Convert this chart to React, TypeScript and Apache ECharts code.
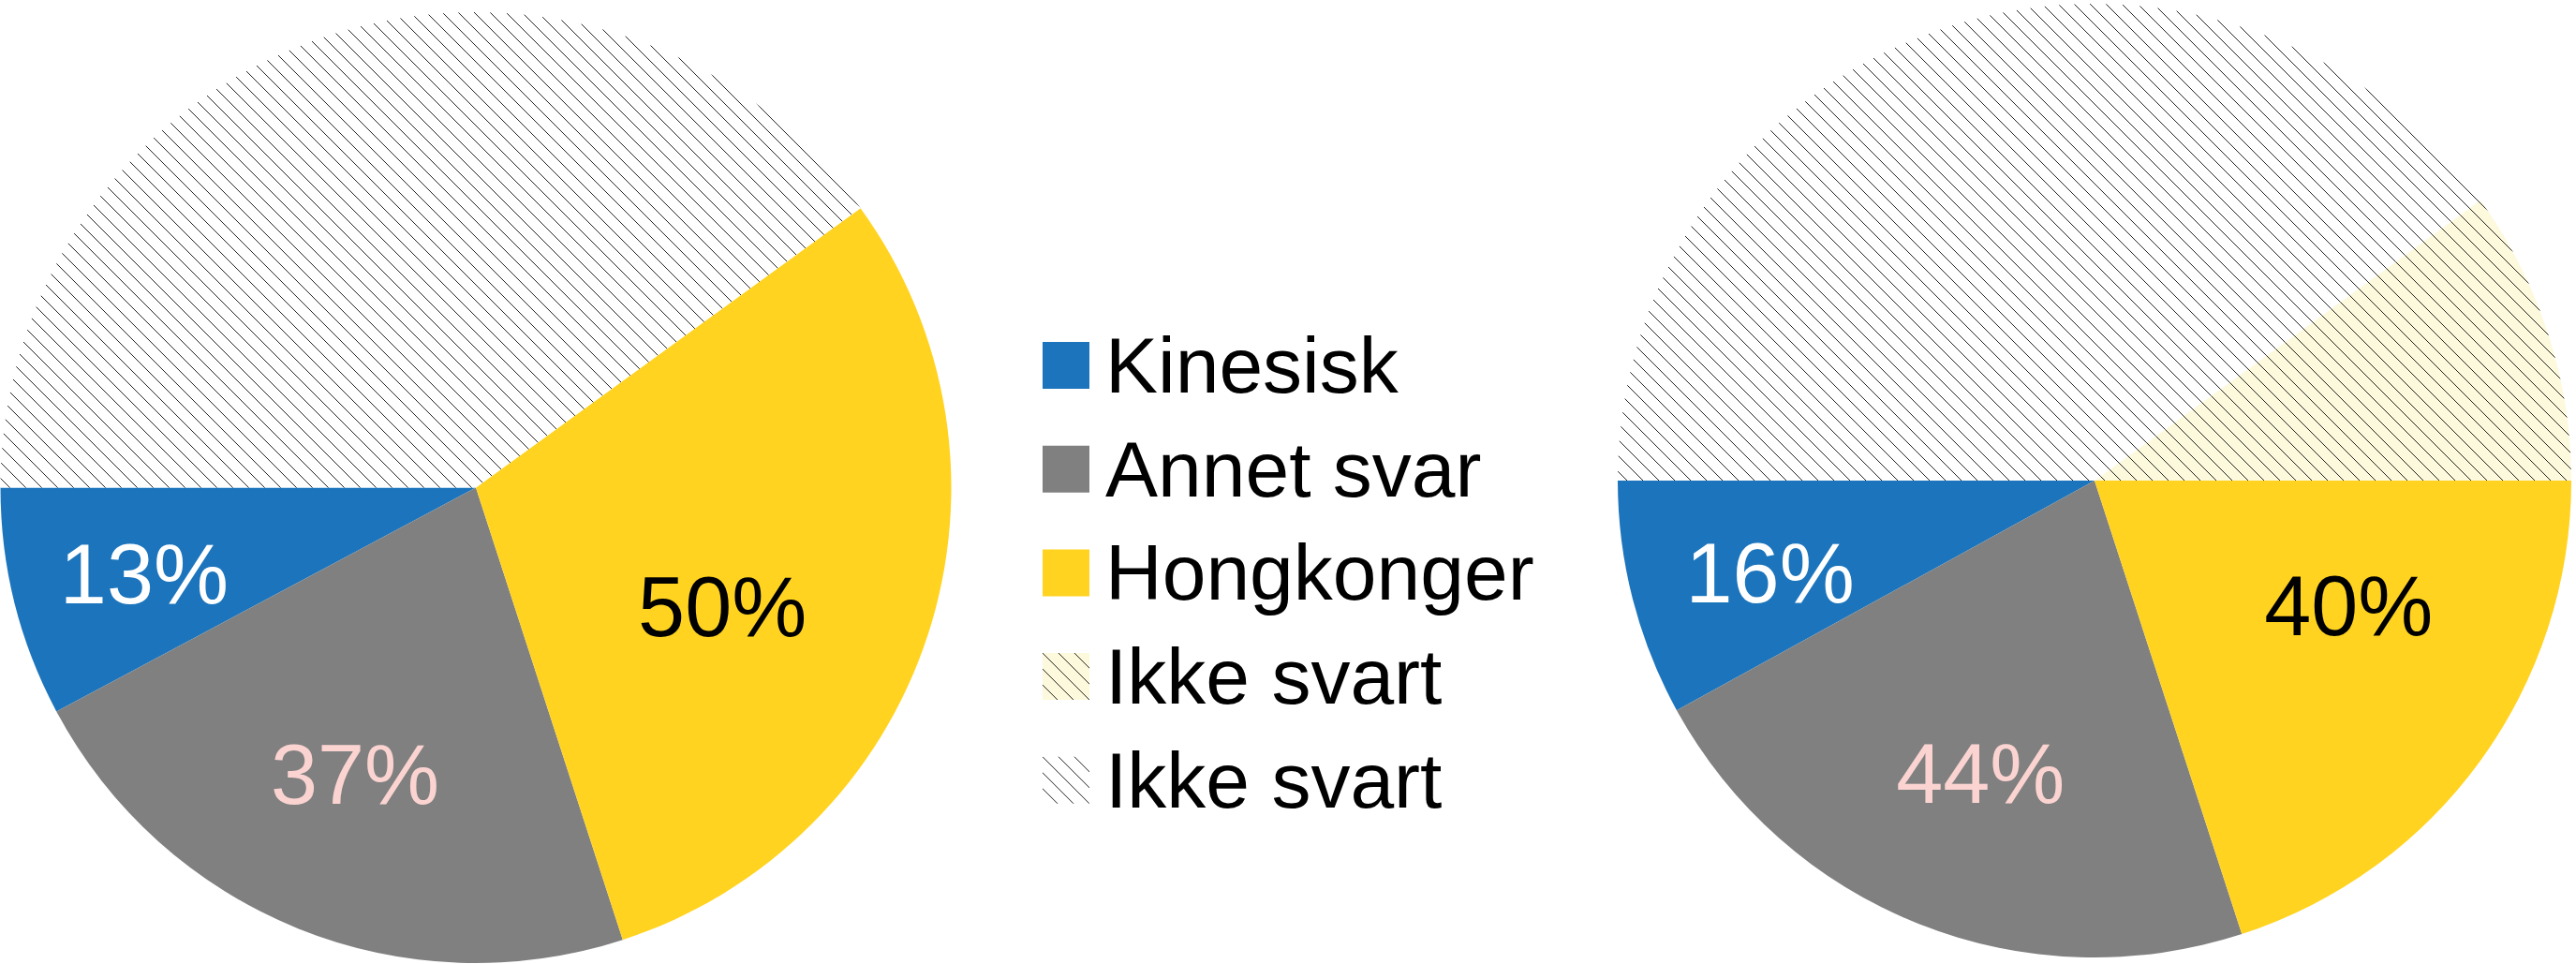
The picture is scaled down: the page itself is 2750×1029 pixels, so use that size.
import React, { useEffect, useRef } from "react";
import * as echarts from "echarts";

// Category names (second "Ikke svart" carries a trailing space so the legend keeps both entries)
const categories = ["Kinesisk", "Annet svar", "Hongkonger", "Ikke svart", "Ikke svart "];
// Share of the full circle (percent)
const leftValues = [7.8, 22.2, 30, 0, 40];
const rightValues = [8, 22, 20, 10, 40];
// number of "answered" categories used as the base for the printed percentages
const answeredCount = 3;

const solidColors = ["#1c75bc", "#808080", "#ffd320"];
const labelColors = ["#ffffff", "#fbd4d1", "#000000"];
const leftLabelOffsets = [[-105, 30], [-33, 68], [19, 48]];
const rightLabelOffsets = [[-97, 35], [-27, 74], [63, -17]];

function makeHatch(bg: string) {
  const s = 17;
  const c = document.createElement("canvas");
  c.width = s;
  c.height = s;
  const ctx = c.getContext("2d")!;
  ctx.fillStyle = bg;
  ctx.fillRect(0, 0, s, s);
  ctx.strokeStyle = "#222222";
  ctx.lineWidth = 1;
  ctx.beginPath();
  ctx.moveTo(-1, -1);
  ctx.lineTo(s + 1, s + 1);
  ctx.moveTo(s - 2, -2);
  ctx.lineTo(s + 2, 2);
  ctx.moveTo(-2, s - 2);
  ctx.lineTo(2, s + 2);
  ctx.stroke();
  return { image: c, repeat: "repeat", imageWidth: s, imageHeight: s } as any;
}

function buildSeries(values: number[], center: number[], radius: number, offsets: number[][]) {
  const answeredSum = values.slice(0, answeredCount).reduce((a, b) => a + b, 0);
  const yellowHatch = makeHatch("#fdf9dc");
  const whiteHatch = makeHatch("#ffffff");
  const data = values.map((v, i) => {
    const item: any = { name: categories[i], value: v };
    if (i < answeredCount) {
      item.itemStyle = { color: solidColors[i] };
      item.label = {
        show: true,
        color: labelColors[i],
        offset: offsets[i],
      };
    } else {
      item.itemStyle = { color: i === 3 ? yellowHatch : whiteHatch };
      item.label = { show: false };
    }
    return item;
  });
  return {
    type: "pie",
    center,
    radius,
    startAngle: 180,
    clockwise: false,
    avoidLabelOverlap: false,
    emphasis: { disabled: true },
    label: {
      position: "inside",
      fontFamily: "Liberation Sans",
      fontSize: 90,
      formatter: (p: any) =>
        p.dataIndex < answeredCount ? Math.round((p.value / answeredSum) * 100) + "%" : "",
    },
    labelLine: { show: false },
    itemStyle: { borderWidth: 0 },
    data,
  };
}

export default function App() {
  const ref = useRef<HTMLDivElement>(null);
  useEffect(() => {
    if (!ref.current) return;
    const chart = echarts.init(ref.current, null, { renderer: "svg" });
    chart.setOption({
      animation: false,
      backgroundColor: "#ffffff",
      legend: {
        orient: "vertical",
        left: 1113,
        top: 348,
        padding: 0,
        icon: "rect",
        itemWidth: 50,
        itemHeight: 50,
        itemGap: 26.7,
        selectedMode: false,
        data: categories,
        formatter: (name: string) => name.trim(),
        textStyle: {
          fontFamily: "Liberation Sans",
          fontSize: 84,
          lineHeight: 84,
          color: "#000000",
          padding: [0, 0, 0, 12],
        },
      },
      series: [
        buildSeries(leftValues, [508, 520.5], 507.5, leftLabelOffsets),
        buildSeries(rightValues, [2236, 513], 509, rightLabelOffsets),
      ],
    });
    return () => chart.dispose();
  }, []);
  return (
    <div
      ref={ref}
      style={{ position: "fixed", left: 0, top: 0, width: 2750, height: 1029 }}
    />
  );
}
